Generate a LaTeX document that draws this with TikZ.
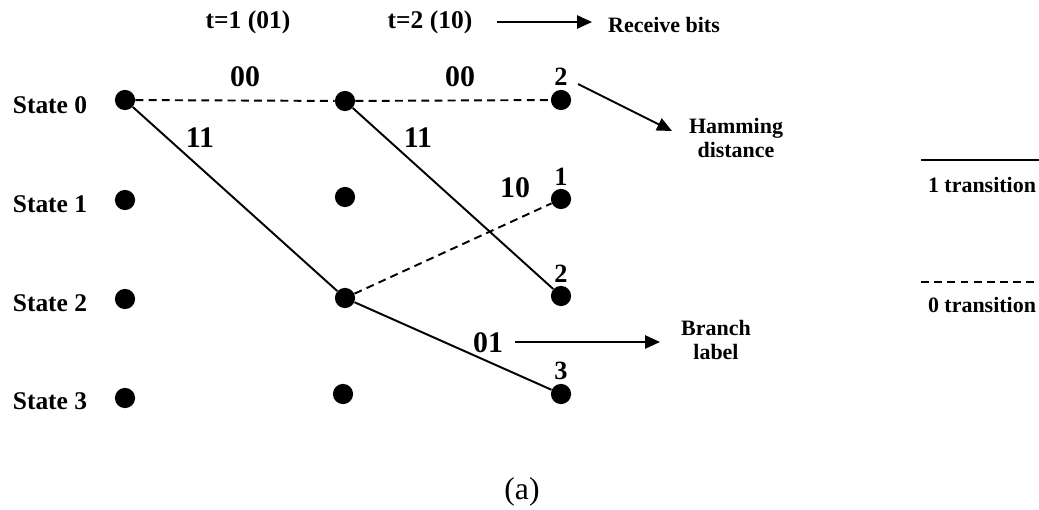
\documentclass[tikz,border=0pt]{standalone}
\usepackage{fontspec}
\setmainfont{Liberation Serif}
\usetikzlibrary{arrows.meta}

\begin{document}
\begin{tikzpicture}[x=0.02cm, y=-0.02cm,
    dot/.style={circle, fill=black, inner sep=0pt, minimum size=11.5pt},
    statelbl/.style={font=\bfseries\fontsize{14.5}{17}\selectfont},
    timelbl/.style={font=\bfseries\fontsize{14.5}{17}\selectfont},
    bitslbl/.style={font=\bfseries\fontsize{17}{20}\selectfont},
    distlbl/.style={font=\bfseries\fontsize{15}{18}\selectfont},
    notelbl/.style={font=\bfseries\fontsize{12.5}{14}\selectfont, align=center},
    onetr/.style={line width=1.1pt},
    zerotr/.style={line width=1.1pt, dash pattern=on 4.5pt off 3pt},
    pointer/.style={line width=1.1pt, -{Triangle[length=8.5pt, width=7.5pt]}}
  ]
  \useasboundingbox (0,0) rectangle (1039,510);

  % time-step headings
  \node[timelbl] (t1) at (248,22) {t=1 (01)};
  \node[timelbl] (t2) at (430,22) {t=2 (10)};
  \node[notelbl, anchor=west] (rx) at (602,25) {Receive bits};
  \coordinate (rxs) at (497,22);
  \coordinate (rxe) at (592,22);
  \draw[pointer] (rxs) -- (rxe);

  % state labels
  \node[statelbl] (s0) at (50,105) {State 0};
  \node[statelbl] (s1) at (50,204) {State 1};
  \node[statelbl] (s2) at (50,303) {State 2};
  \node[statelbl] (s3) at (50,401) {State 3};

  % trellis nodes
  \node[dot] (a0) at (125,100) {};
  \node[dot] (a1) at (125,200) {};
  \node[dot] (a2) at (125,299) {};
  \node[dot] (a3) at (125,398) {};
  \node[dot] (b0) at (345,101) {};
  \node[dot] (b1) at (345,197) {};
  \node[dot] (b2) at (345,298) {};
  \node[dot] (b3) at (343,394) {};
  \node[dot] (c0) at (561,100) {};
  \node[dot] (c1) at (561,199) {};
  \node[dot] (c2) at (561,296) {};
  \node[dot] (c3) at (561,394) {};

  % branches
  \draw[zerotr] (a0) -- (b0);
  \draw[onetr]  (a0) -- (b2);
  \draw[zerotr] (b0) -- (c0);
  \draw[onetr]  (b0) -- (c2);
  \draw[zerotr] (b2) -- (c1);
  \draw[onetr]  (b2) -- (c3);

  % branch labels
  \node[bitslbl] (l00a) at (245,77) {00};
  \node[bitslbl] (l00b) at (460,77) {00};
  \node[bitslbl] (l11a) at (200,138) {11};
  \node[bitslbl] (l11b) at (418,138) {11};
  \node[bitslbl] (l10)  at (515,188) {10};
  \node[bitslbl] (l01)  at (488,343) {01};

  % accumulated Hamming distances
  \node[distlbl] (d0) at (561,77) {2};
  \node[distlbl] (d1) at (561,177) {1};
  \node[distlbl] (d2) at (561,274) {2};
  \node[distlbl] (d3) at (561,371) {3};

  % annotations
  \node[notelbl] (ham) at (736,138) {Hamming\\distance};
  \coordinate (hs) at (578,84);
  \coordinate (he) at (672,131);
  \draw[pointer] (hs) -- (he);

  \node[notelbl] (br) at (716,340) {Branch\\label};
  \coordinate (bs) at (515,342);
  \coordinate (be) at (660,342);
  \draw[pointer] (bs) -- (be);

  % legend
  \coordinate (k1a) at (921,160);
  \coordinate (k1b) at (1039,160);
  \draw[onetr] (k1a) -- (k1b);
  \node[notelbl] (k1) at (982,185) {1 transition};
  \coordinate (k0a) at (921,282);
  \coordinate (k0b) at (1039,282);
  \draw[zerotr] (k0a) -- (k0b);
  \node[notelbl] (k0) at (982,305) {0 transition};

  % caption
  \node[font=\fontsize{18}{21}\selectfont] (cap) at (522,492) {(a)};
\end{tikzpicture}
\end{document}
